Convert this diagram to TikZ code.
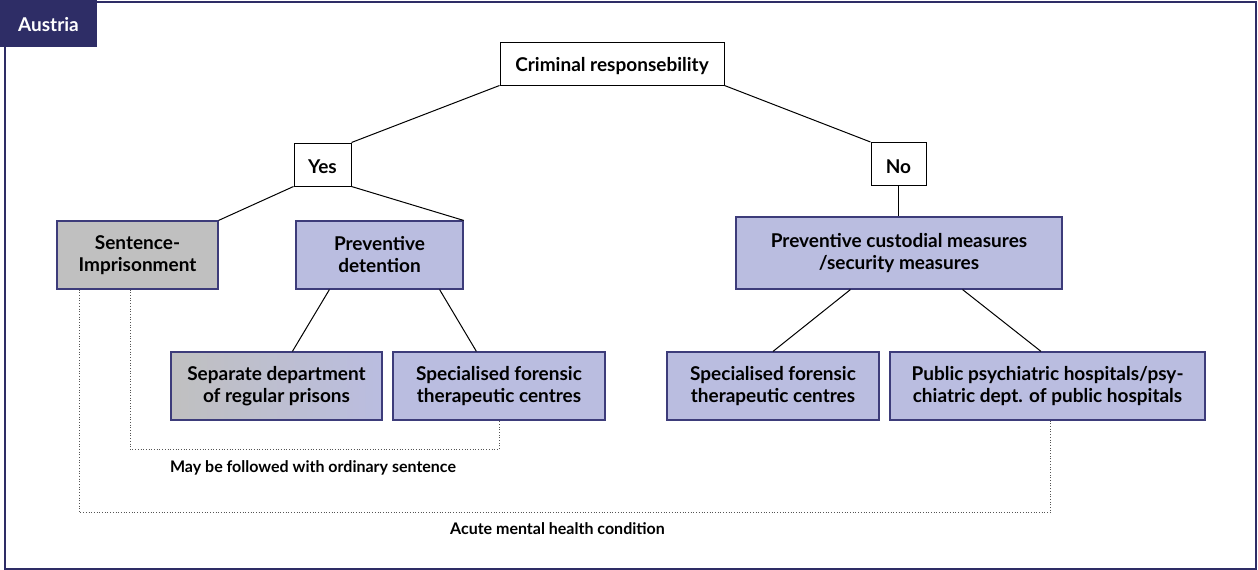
\documentclass[tikz,border=0pt]{standalone}
\usepackage{fontspec}
\setmainfont{Lato}
\definecolor{navy}{HTML}{2E2D66}
\definecolor{boxline}{HTML}{3D3C7A}
\definecolor{lav}{HTML}{BABDE0}
\definecolor{grayfill}{HTML}{C0C0C0}
\definecolor{dotcol}{HTML}{555555}
\tikzset{
  base/.style={draw, line width=1.2pt, align=center, inner sep=0pt, font=\fontsize{19}{22}\selectfont\bfseries, text=black, execute at begin node={\rule{0pt}{19pt}}},
  whitebox/.style={base, draw=black, line width=1pt, fill=white},
  lavbox/.style={base, draw=boxline, fill=lav},
  graybox/.style={base, draw=boxline, fill=grayfill},
  gradbox/.style={base, draw=boxline, left color=grayfill, right color=lav},
  conn/.style={draw=black, line width=1pt},
  dots/.style={draw=dotcol, line width=1pt, dash pattern=on 0.9pt off 1.8pt},
  note/.style={font=\fontsize{16}{19}\selectfont\bfseries, text=black, inner sep=0pt}
}
\begin{document}
\begin{tikzpicture}[x=1pt,y=-1pt]
\useasboundingbox (0,0) rectangle (1258,570);
\fill[white] (0,0) rectangle (1258,570);
% frame
\draw[navy, line width=2pt] (5,2) rectangle (1256,569);
\fill[navy] (0,0) rectangle (97,47);
\node[font=\fontsize{19}{21}\selectfont\bfseries, text=white] (tab) at (48.5,25) {Austria};
% nodes
\node[whitebox, minimum width=224pt, minimum height=43pt] (crit) at (612,63.5) {Criminal responsebility};
\node[whitebox, minimum width=57pt, minimum height=43pt] (yes) at (322.5,164.5) {Yes};
\node[whitebox, minimum width=55pt, minimum height=43pt] (no) at (898.5,164) {No};
\node[graybox, minimum width=161pt, minimum height=68pt] (sent) at (137.5,255) {Sentence-\\Imprisonment};
\node[lavbox, minimum width=167pt, minimum height=68pt] (pd) at (379.5,255) {Preventive\\detention};
\node[lavbox, minimum width=326pt, minimum height=72pt] (pcm) at (899,253) {Preventive custodial measures\\/security measures};
\node[gradbox, minimum width=211pt, minimum height=68pt] (sep) at (276.5,386) {Separate department\\of regular prisons};
\node[lavbox, minimum width=212pt, minimum height=68pt] (sfl) at (499,386) {Specialised forensic\\therapeutic centres};
\node[lavbox, minimum width=212pt, minimum height=68pt] (sfr) at (773,386) {Specialised forensic\\therapeutic centres};
\node[lavbox, minimum width=315pt, minimum height=68pt] (pub) at (1047.5,386) {Public psychiatric hospitals/psy-\\chiatric dept. of public hospitals};
% connectors
\draw[conn] (crit.south west) -- (yes.north east);
\draw[conn] (crit.south east) -- (no.north west);
\draw[conn] (yes.south west) -- (sent.north east);
\draw[conn] (yes.south east) -- (pd.north east);
\draw[conn] (no.south) -- (pcm.north -| no.south);
\draw[conn] ([xshift=34pt]pd.south west) -- ([xshift=122pt]sep.north west);
\draw[conn] ([xshift=-24pt]pd.south east) -- ([xshift=84pt]sfl.north west);
\draw[conn] ([xshift=115pt]pcm.south west) -- (sfr.north);
\draw[conn] ([xshift=-100pt]pcm.south east) -- ([xshift=-6.5pt]pub.north);
% dotted links
\draw[dots] ([xshift=74pt]sent.south west) -- ++(0,160) -| (sfl.south);
\draw[dots] ([xshift=23pt]sent.south west) -- ++(0,223) -| ([xshift=3pt]pub.south);
\node[note] (lab1) at (313,467.5) {May be followed with ordinary sentence};
\node[note] (lab2) at (557.5,529) {Acute mental health condition};
\end{tikzpicture}
\end{document}
